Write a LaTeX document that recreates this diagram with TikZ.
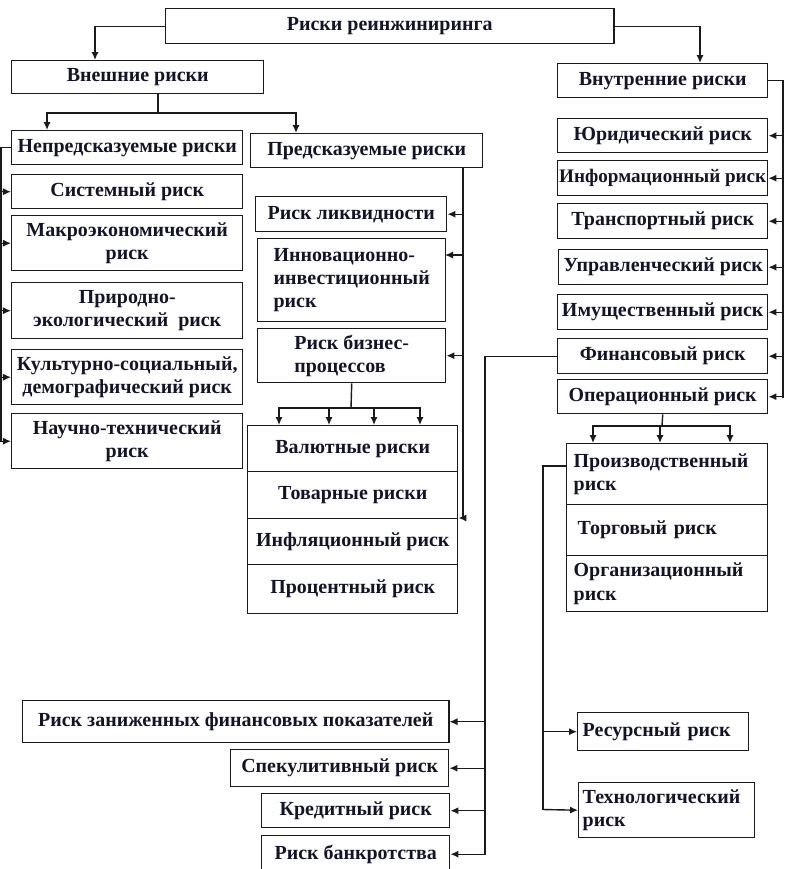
\documentclass[tikz,border=0pt]{standalone}
\usepackage{fontspec}
\setmainfont{Liberation Serif}
\usetikzlibrary{arrows.meta,calc}
\definecolor{RRLine}{HTML}{1A1A1A}
\definecolor{RRText}{HTML}{141428}
\tikzset{
  rbox/.style={draw=RRLine,line width=1pt,anchor=north west,inner xsep=1pt,inner ysep=0pt,align=center,text=RRText,font=\bfseries\fontsize{14.2}{16.5}\selectfont},
  rboxl/.style={rbox,align=left,inner xsep=0.125cm},
  rarr/.style={draw=RRLine,line width=1pt,-{Latex[length=2mm,width=1.8mm]}},
  rline/.style={draw=RRLine,line width=1pt}
}

\begin{document}
\begin{tikzpicture}[x=0.025cm,y=-0.025cm]
\path[use as bounding box] (0,0) rectangle (784,869);
\node[rbox,minimum width=11.2cm,minimum height=0.875cm] (root) at (165,8) {Риски реинжиниринга};
\node[rbox,minimum width=6.3cm,minimum height=0.825cm] (ext) at (11,60) {Внешние риски};
\node[rbox,minimum width=5.25cm,minimum height=0.85cm] (intr) at (557,63) {Внутренние риски};
\node[rbox,inner xsep=0pt,minimum width=5.775cm,minimum height=0.85cm] (unpred) at (11,130) {Непредсказуемые риски};
\node[rbox,minimum width=5.8cm,minimum height=0.85cm] (pred) at (250,133) {Предсказуемые риски};
\node[rbox,minimum width=5.775cm,minimum height=0.85cm] (sys) at (11,174) {Системный риск};
\node[rbox,minimum width=5.775cm,minimum height=1.375cm] (macro) at (11,215) {Макроэкономический\\риск};
\node[rbox,minimum width=5.775cm,minimum height=1.4cm] (nat) at (11,282) {Природно-\\экологический~~риск};
\node[rbox,inner xsep=0pt,minimum width=5.775cm,minimum height=1.375cm] (cult) at (11,349) {Культурно-социальный,\\демографический риск};
\node[rbox,minimum width=5.775cm,minimum height=1.375cm] (sci) at (11,413) {Научно-технический\\риск};
\node[rbox,minimum width=4.775cm,minimum height=0.875cm] (liq) at (255,196) {Риск ликвидности};
\node[rbox,align=left,minimum width=4.7cm,minimum height=2.075cm] (innov) at (257,238) {Инновационно-\\инвестиционный\\риск};
\node[rbox,align=left,minimum width=4.7cm,minimum height=1.35cm] (bproc) at (257,328) {Риск бизнес-\\процессов};
\node[rbox,minimum width=5.25cm,minimum height=1.15cm] (val) at (247,425) {Валютные риски};
\node[rbox,minimum width=5.25cm,minimum height=1.175cm] (tov) at (247,471) {Товарные риски};
\node[rbox,minimum width=5.25cm,minimum height=1.15cm] (infl) at (247,518) {Инфляционный риск};
\node[rbox,minimum width=5.25cm,minimum height=1.225cm] (proc) at (247,564) {Процентный риск};
\node[rbox,minimum width=5.25cm,minimum height=0.85cm] (jur) at (557,118) {Юридический риск};
\node[rbox,inner xsep=0pt,font=\bfseries\fontsize{13.6}{16.5}\selectfont,minimum width=5.25cm,minimum height=0.875cm] (info) at (557,160) {Информационный риск};
\node[rbox,minimum width=5.25cm,minimum height=0.875cm] (trans) at (557,203) {Транспортный риск};
\node[rbox,inner xsep=0pt,minimum width=5.225cm,minimum height=0.875cm] (upr) at (558,249) {Управленческий риск};
\node[rbox,inner xsep=0pt,minimum width=5.25cm,minimum height=0.875cm] (imu) at (557,294) {Имущественный риск};
\node[rbox,minimum width=5.25cm,minimum height=0.875cm] (fin) at (557,338) {Финансовый риск};
\node[rbox,minimum width=5.25cm,minimum height=0.85cm] (oper) at (557,379) {Операционный риск};
\node[rboxl,inner xsep=0.175cm,text width=4.675cm,minimum height=1.525cm] (prod) at (566,443) {Производственный\\риск};
\node[rboxl,inner xsep=0.275cm,text width=4.475cm,minimum height=1.275cm] (torg) at (566,504) {Торговый риск};
\node[rboxl,inner xsep=0.175cm,text width=4.675cm,minimum height=1.4cm] (org) at (566,555) {Организационный\\риск};
\node[rboxl,text width=4.025cm,minimum height=0.95cm] (res) at (577,712) {Ресурсный риск};
\node[rboxl,inner xsep=0.1cm,text width=4.2cm,minimum height=1.375cm] (tech) at (578,782) {Технологический\\риск};
\node[rbox,minimum width=10.65cm,minimum height=1.05cm] (low) at (22,700) {Риск заниженных финансовых показателей};
\node[rbox,minimum width=5.45cm,minimum height=0.925cm] (spec) at (230,749) {Спекулитивный риск};
\node[rbox,minimum width=4.7cm,minimum height=0.85cm] (cred) at (261,793) {Кредитный риск};
\node[rbox,minimum width=4.7cm,minimum height=0.925cm] (bank) at (261,835) {Риск банкротства};
\coordinate (extin) at (95,60);
\coordinate (intrin) at (700,63);
\draw[rarr] (root.west) -| (extin);
\draw[rarr] (root.east) -| (intrin);
\coordinate (extout) at (158,93);
\coordinate (extj) at (158,113);
\coordinate (unpredin) at (47,130);
\coordinate (predin) at (296,133);
\draw[rline] (extout) -- (extj);
\draw[rarr] (extj) -| (unpredin);
\draw[rarr] (extj) -| (predin);
\coordinate (lbus) at (1,440);
\draw[rline] (unpred.west) -| (lbus);
\foreach \n in {sys,macro,nat,cult,sci}
  \draw[rarr] (lbus) |- (\n.west);
\coordinate (predout) at (463,167);
\coordinate (predbus) at (463,518);
\coordinate (innovin) at (445,255);
\draw[rline] (predout) -- (predbus);
\draw[rarr] (predbus) |- (liq.east);
\draw[rarr] (predbus) |- (innovin);
\draw[rarr] (predbus) |- (bproc.east);
\draw[rarr] (predbus) -- (infl.north east);
\coordinate (bprocj) at (351,408);
\draw[rline] (bproc.south) -- (bprocj);
\foreach \dx in {32,82,127,173}
  \draw[rarr] (bprocj) -| ($(val.north west)+(\dx,0)$);
\coordinate (rbus) at (783,398);
\draw[rline] (intr.east) -| (rbus);
\foreach \n in {jur,info,trans,upr,imu,fin,oper}
  \draw[rarr] (rbus) |- (\n.east);
\coordinate (operj) at (662,426);
\draw[rline] (oper.south) -- (operj);
\foreach \dx in {27,94,164}
  \draw[rarr] (operj) -| ($(prod.north west)+(\dx,0)$);
\coordinate (fbus) at (485,853.5);
\draw[rline] (fin.west) -| (fbus);
\foreach \n in {low,spec,cred,bank}
  \draw[rarr] (fbus) |- (\n.east);
\coordinate (prodout) at (566,466);
\coordinate (pbus) at (543,809.5);
\draw[rline] (prodout) -| (pbus);
\draw[rarr] (pbus) |- (res.west);
\draw[rarr] (pbus) -- (tech.west);
\end{tikzpicture}
\end{document}
